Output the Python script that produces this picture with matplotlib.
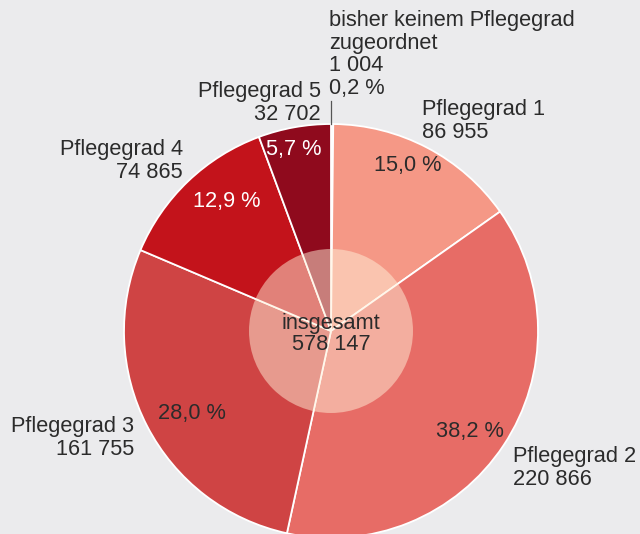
import matplotlib.pyplot as plt
from matplotlib.patches import Circle

plt.rcParams['font.family'] = ['Liberation Sans', 'DejaVu Sans']

# data
labels = ['bisher keinem Pflegegrad\nzugeordnet', 'Pflegegrad 1', 'Pflegegrad 2',
          'Pflegegrad 3', 'Pflegegrad 4', 'Pflegegrad 5']
counts = [1004, 86955, 220866, 161755, 74865, 32702]
percents = ['0,2 %', '15,0 %', '38,2 %', '28,0 %', '12,9 %', '5,7 %']
total = '578 147'
colors = ['#f4f0f0', '#f59886', '#e76c66', '#cf4444', '#c3131b', '#8f0a1d']

bg = '#ebebed'
txt = '#2b2b2b'

# pixel layout helpers (center 331/331, radius 207 px)
CX, CY, R = 331, 331, 207


def p2d(x, y):
    return (x - CX) / R, (CY - y) / R


def fmt(n):
    return f'{n:,}'.replace(',', ' ')


fig = plt.figure(figsize=(6.4, 5.34), dpi=100, facecolor=bg)
ax = fig.add_axes([0, 0, 1, 1])
ax.set_facecolor(bg)

ax.pie(counts, colors=colors, startangle=90, counterclock=False, radius=1,
       wedgeprops=dict(edgecolor='white', linewidth=1.3))
ax.add_patch(Circle((0, 0), 82 / R, facecolor='#fff0d8', alpha=0.5, lw=0, zorder=5))

x0, y0 = p2d(0, 534)
x1, y1 = p2d(640, 0)
ax.set_xlim(x0, x1)
ax.set_ylim(y0, y1)
ax.set_aspect('equal')
ax.axis('off')

fs = 15.7
# outer labels: (x, y, ha)
label_pos = [(329, 10, 'left'), (422, 99, 'left'), (513, 446, 'left'),
             (134, 416, 'right'), (183, 139, 'right'), (321, 81, 'right')]
for i, (lx, ly, ha) in enumerate(label_pos):
    s = labels[i] + '\n' + fmt(counts[i])
    if i == 0:
        s += '\n' + percents[i]
    ax.text(*p2d(lx, ly), s, ha=ha, va='top', fontsize=fs, color=txt,
            linespacing=1.1)

# leader line for tiny wedge
ax.plot(*zip(p2d(331, 101), p2d(331, 124)), color='#555555', lw=0.9)

# percent labels inside wedges
pct_pos = [None, (408, 166), (470, 431), (192, 413), (227, 202), (294, 149)]
pct_col = [None, txt, txt, txt, 'white', 'white']
for i in range(1, 6):
    ax.text(*p2d(*pct_pos[i]), percents[i], ha='center', va='center',
            fontsize=fs, color=pct_col[i], zorder=6)

ax.text(*p2d(331, 334), 'insgesamt\n' + total, ha='center', va='center',
        fontsize=fs, color=txt, linespacing=1.05, zorder=6)

fig.savefig('out.png', dpi=100, facecolor=bg)
